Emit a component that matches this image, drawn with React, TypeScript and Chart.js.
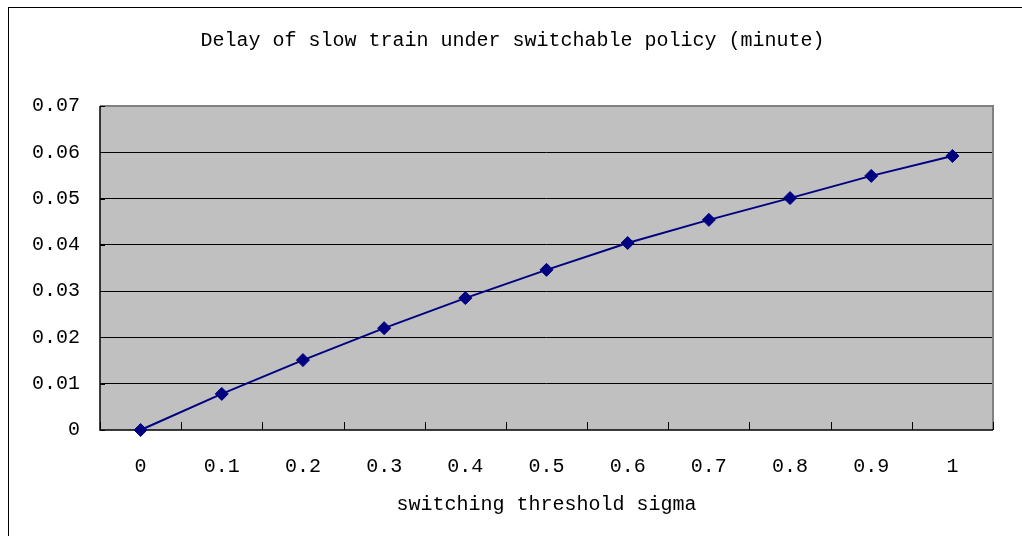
import React, { useEffect, useRef } from 'react';
import { Chart, registerables } from 'chart.js';

Chart.register(...registerables);

const categories = ['0', '0.1', '0.2', '0.3', '0.4', '0.5', '0.6', '0.7', '0.8', '0.9', '1'];
const delayValues = [0, 0.0078, 0.0151, 0.022, 0.0285, 0.0346, 0.0404, 0.0454, 0.0501, 0.0549, 0.0592];
const yMin = 0;
const yMax = 0.07;
const yStep = 0.01;
const chartTitle = 'Delay of slow train under switchable policy (minute)';
const xAxisTitle = 'switching threshold sigma';

const FONT = "'Liberation Mono', 'DejaVu Sans Mono', monospace";

const plotDecor = {
  id: 'plotDecor',
  beforeDraw(chart: any) {
    const { ctx, chartArea } = chart;
    const { left, top, right, bottom } = chartArea;
    ctx.save();
    ctx.fillStyle = '#c0c0c0';
    ctx.fillRect(left, top, right - left, bottom - top);
    ctx.restore();
  },
  beforeDatasetsDraw(chart: any) {
    const { ctx, chartArea, scales } = chart;
    const { left, top, right, bottom } = chartArea;
    ctx.save();
    // gray frame (top & right)
    ctx.strokeStyle = '#808080';
    ctx.lineWidth = 2;
    ctx.beginPath();
    ctx.moveTo(left, top);
    ctx.lineTo(right, top);
    ctx.lineTo(right, bottom);
    ctx.stroke();
    // axis lines
    ctx.strokeStyle = '#000';
    ctx.lineWidth = 1.5;
    ctx.beginPath();
    ctx.moveTo(left, top);
    ctx.lineTo(left, bottom);
    ctx.lineTo(right, bottom);
    ctx.stroke();
    // inward ticks on x axis between categories
    const n = scales.x.ticks.length;
    ctx.lineWidth = 1;
    ctx.beginPath();
    for (let i = 0; i <= n; i++) {
      const x = Math.round(left + (i * (right - left)) / n) + 0.5;
      ctx.moveTo(x, bottom);
      ctx.lineTo(x, bottom - 8);
    }
    // inward ticks on y axis
    scales.y.ticks.forEach((t: any) => {
      const y = Math.round(scales.y.getPixelForValue(t.value)) + 0.5;
      ctx.moveTo(left, y);
      ctx.lineTo(left + 5, y);
    });
    ctx.stroke();
    ctx.restore();
  },
};

export default function App() {
  const ref = useRef<HTMLCanvasElement | null>(null);
  useEffect(() => {
    if (!ref.current) return;
    Chart.defaults.font.family = FONT;
    Chart.defaults.font.size = 20;
    Chart.defaults.color = '#000';
    const chart = new Chart(ref.current, {
      type: 'line',
      data: {
        labels: categories,
        datasets: [
          {
            data: delayValues,
            borderColor: '#000080',
            backgroundColor: '#000080',
            borderWidth: 2,
            pointStyle: 'rectRot',
            pointRadius: 6.5,
            pointBorderWidth: 1,
            pointBorderColor: '#000080',
            pointBackgroundColor: '#000080',
            tension: 0,
            clip: false as any,
          },
        ],
      },
      options: {
        animation: false,
        responsive: false,
        maintainAspectRatio: false,
        layout: { padding: { left: 32, right: 29, top: 8, bottom: 19 } },
        plugins: {
          legend: { display: false },
          tooltip: { enabled: false },
          title: {
            display: true,
            text: chartTitle,
            color: '#000',
            font: { family: FONT, size: 20, weight: 'normal' },
            padding: { top: 21, bottom: 53 },
          },
        },
        scales: {
          x: {
            type: 'category',
            offset: true,
            border: { display: false },
            grid: { display: true, drawOnChartArea: false, drawTicks: false, color: 'transparent' },
            ticks: { padding: 25, color: '#000', font: { family: FONT, size: 20 }, maxRotation: 0, autoSkip: false },
            title: {
              display: true,
              text: xAxisTitle,
              color: '#000',
              font: { family: FONT, size: 20 },
              padding: { top: 14, bottom: 0 },
            },
            afterFit: (s: any) => {
              s.height = 87;
            },
          },
          y: {
            min: yMin,
            max: yMax,
            border: { display: false },
            grid: {
              drawTicks: false,
              lineWidth: 1,
              color: (c: any) =>
                c.tick && c.tick.value > yMin + 1e-9 && c.tick.value < yMax - 1e-9 ? '#000' : 'transparent',
            },
            ticks: {
              stepSize: yStep,
              padding: 20,
              color: '#000',
              font: { family: FONT, size: 20 },
              callback: (v: any) => (Number(v) === 0 ? '0' : Number(v).toFixed(2)),
            },
            afterFit: (s: any) => {
              s.width = 68;
            },
          },
        },
      },
      plugins: [plotDecor],
    });
    return () => chart.destroy();
  }, []);
  return (
    <div style={{ position: 'fixed', left: 0, top: 0, width: 1022, height: 536, background: '#fff' }}>
      <div
        style={{
          position: 'absolute',
          left: 8,
          top: 7,
          right: 0,
          bottom: 0,
          borderLeft: '1.5px solid #000',
          borderTop: '1.5px solid #000',
        }}
      />
      <canvas ref={ref} width={1022} height={536} style={{ position: 'absolute', left: 0, top: 0 }} />
    </div>
  );
}
